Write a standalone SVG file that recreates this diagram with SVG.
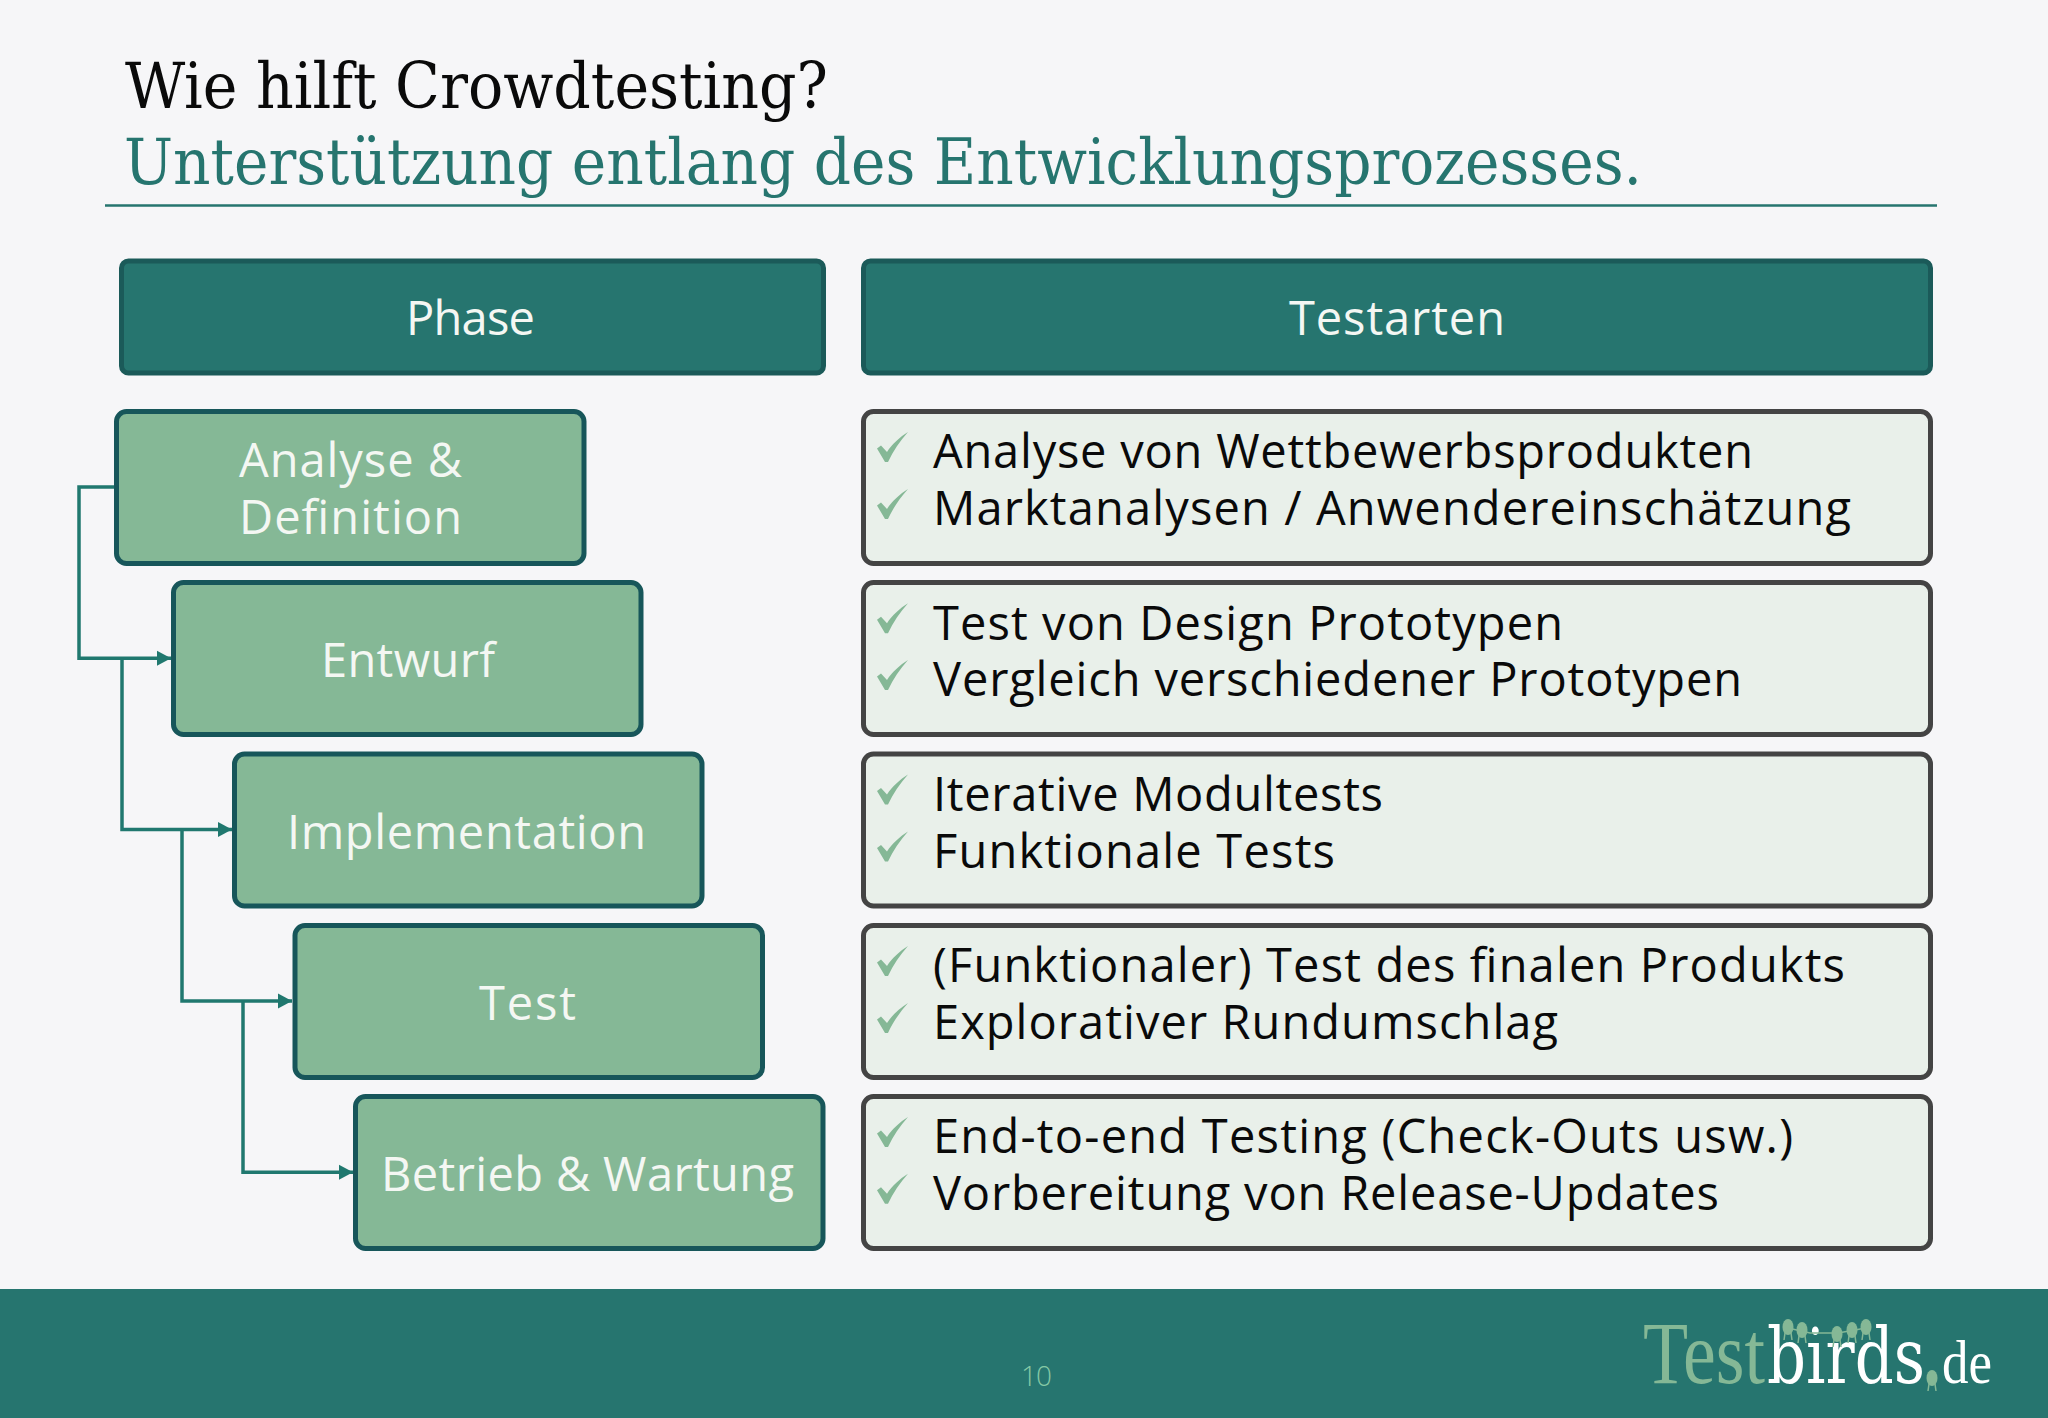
<svg xmlns="http://www.w3.org/2000/svg" width="2048" height="1418" viewBox="0 0 2048 1418">
<style>
.t1{font-family:"DejaVu Serif",serif;font-stretch:condensed;font-size:64px}
.b{font-family:"Open Sans","DejaVu Sans",sans-serif;font-size:47px}
.w{fill:#f4f7f3}
.k{fill:#0a0a0a}
.ph{fill:#26756f;stroke:#1b5a59;stroke-width:5}
.st{fill:#85b896;stroke:#17565a;stroke-width:5}
.ts{fill:#e9f0ea;stroke:#444;stroke-width:5}
.cn{fill:none;stroke:#20786f;stroke-width:3.500}
.bd{fill:#85b896}
</style>
<defs>
<marker id="ah" markerUnits="userSpaceOnUse" markerWidth="16" markerHeight="16" refX="14" refY="8" orient="auto"><path d="M0 0.500L14 8L0 15.500Z" fill="#20786f"/></marker>
<path id="ck" d="M877 448.500L881 445.500L887 452C892 444 900 437 908 432C900 441 893 451 888 462L885 462Z" fill="#85b896"/>
<g id="bird"><ellipse cx="0" cy="0" rx="5.500" ry="8"/><path d="M-3 6L-4 13M3 6L4 13" stroke="#85b896" stroke-width="1.500"/></g>
</defs>
<rect id="background" width="2048" height="1418" fill="#f6f6f8"/>
<g id="title">
<text class="t1 k" x="125" y="108" textLength="703" lengthAdjust="spacingAndGlyphs">Wie hilft Crowdtesting?</text>
<text class="t1" fill="#26756f" x="124" y="184" textLength="1518" lengthAdjust="spacingAndGlyphs">Unterstützung entlang des Entwicklungsprozesses.</text>
<path d="M105 205.500H1937" stroke="#26756f" stroke-width="2.500"/>
</g>
<g id="connectors">
<path class="cn" d="M116 487H79V658.300H171" marker-end="url(#ah)"/>
<path class="cn" d="M122 658.300V829.600H232" marker-end="url(#ah)"/>
<path class="cn" d="M182 829.600V1001H292" marker-end="url(#ah)"/>
<path class="cn" d="M243 1001V1172.300H353" marker-end="url(#ah)"/>
</g>
<g id="header-phase"><rect class="ph" x="121.500" y="261" width="702" height="112" rx="7"/><text class="b w" x="406" y="335" textLength="129">Phase</text></g>
<g id="header-testarten"><rect class="ph" x="863.500" y="261" width="1067" height="112" rx="7"/><text class="b w" x="1289" y="335" textLength="216">Testarten</text></g>
<g id="phase-analyse"><rect class="st" x="116.500" y="411.500" width="467.500" height="152" rx="10"/><text class="b w" x="239" y="477" textLength="223">Analyse &amp;</text><text class="b w" x="239" y="534" textLength="223">Definition</text></g>
<g id="phase-entwurf"><rect class="st" x="173.500" y="582.500" width="467.500" height="152" rx="10"/><text class="b w" x="321" y="677" textLength="174">Entwurf</text></g>
<g id="phase-implementation"><rect class="st" x="234.500" y="754" width="467.500" height="152" rx="10"/><text class="b w" x="287" y="849" textLength="359">Implementation</text></g>
<g id="phase-test"><rect class="st" x="295" y="925.500" width="467.500" height="152" rx="10"/><text class="b w" x="479" y="1020" textLength="97">Test</text></g>
<g id="phase-betrieb"><rect class="st" x="355.500" y="1096.500" width="467.500" height="152" rx="10"/><text class="b w" x="381" y="1191" textLength="413">Betrieb &amp; Wartung</text></g>
<g id="tests-1"><rect class="ts" x="863.500" y="411.500" width="1067" height="152" rx="10"/><use href="#ck"/><use href="#ck" y="57"/><text class="b k" x="933" y="468" textLength="820">Analyse von Wettbewerbsprodukten</text><text class="b k" x="933" y="525" textLength="918">Marktanalysen / Anwendereinschätzung</text></g>
<g id="tests-2"><rect class="ts" x="863.500" y="582.500" width="1067" height="152" rx="10"/><use href="#ck" y="171.300"/><use href="#ck" y="228"/><text class="b k" x="933" y="640" textLength="630">Test von Design Prototypen</text><text class="b k" x="933" y="696" textLength="809">Vergleich verschiedener Prototypen</text></g>
<g id="tests-3"><rect class="ts" x="863.500" y="754" width="1067" height="152" rx="10"/><use href="#ck" y="342.600"/><use href="#ck" y="399.500"/><text class="b k" x="933" y="811" textLength="450">Iterative Modultests</text><text class="b k" x="933" y="868" textLength="402">Funktionale Tests</text></g>
<g id="tests-4"><rect class="ts" x="863.500" y="925.500" width="1067" height="152" rx="10"/><use href="#ck" y="514"/><use href="#ck" y="571"/><text class="b k" x="933" y="982" textLength="912">(Funktionaler) Test des finalen Produkts</text><text class="b k" x="933" y="1039" textLength="625">Explorativer Rundumschlag</text></g>
<g id="tests-5"><rect class="ts" x="863.500" y="1096.500" width="1067" height="152" rx="10"/><use href="#ck" y="685"/><use href="#ck" y="741.700"/><text class="b k" x="933" y="1153" textLength="860">End-to-end Testing (Check-Outs usw.)</text><text class="b k" x="933" y="1210" textLength="786">Vorbereitung von Release-Updates</text></g>
<g id="footer">
<rect x="0" y="1289" width="2048" height="129" fill="#26756f"/>
<text x="1021" y="1386" style="font-family:'Open Sans',sans-serif;font-size:28px;font-weight:300" fill="#85c8a5" textLength="31">10</text>
<g id="logo">
<text x="1643" y="1383" font-family="'Liberation Serif',serif" font-size="88" fill="#85b896" textLength="122" lengthAdjust="spacingAndGlyphs">Test</text>
<text x="1767" y="1383" font-family="'DejaVu Serif',serif" font-size="76" fill="#ffffff" textLength="158" lengthAdjust="spacingAndGlyphs">birds</text>
<text x="1942" y="1383" font-family="'Liberation Serif',serif" font-size="62" fill="#ffffff" textLength="50" lengthAdjust="spacingAndGlyphs">de</text>
<path d="M1788 1328L1810 1333H1838L1866 1328" fill="none" stroke="#85b896" stroke-width="1.500"/>
<g class="bd">
<use href="#bird" x="1788" y="1327"/><use href="#bird" x="1802" y="1330"/><use href="#bird" x="1837" y="1334"/><use href="#bird" x="1852" y="1330"/><use href="#bird" x="1866" y="1327"/><use href="#bird" x="1932" y="1378"/>
</g>
</g>
</g>
</svg>
